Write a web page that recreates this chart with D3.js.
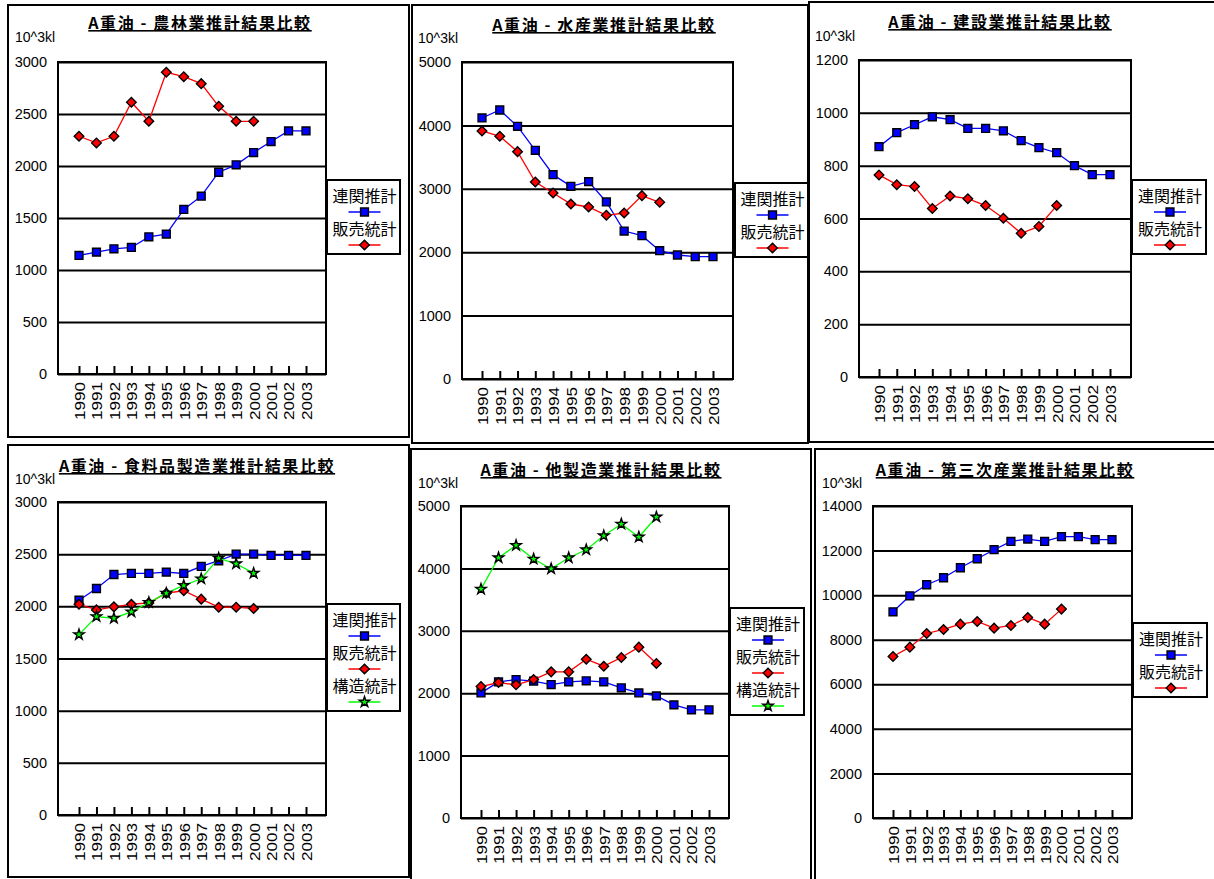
<!DOCTYPE html>
<html>
<head>
<meta charset="utf-8">
<script src="https://cdn.jsdelivr.net/npm/d3@7"></script>
<style>
  html, body { margin: 0; padding: 0; background: #fff; }
  svg { display: block; }
  .num { font-family: "Liberation Sans", Arial, sans-serif; font-size: 14px; fill: #000; }
  .cjk { font-family: "Noto Sans CJK JP", sans-serif; fill: #000; }
</style>
</head>
<body>
<svg id="chart" width="1214" height="879"></svg>
<script>
// Fiscal years on the category axis
const years = ["1990","1991","1992","1993","1994","1995","1996","1997","1998","1999","2000","2001","2002","2003"];

// Legend names
const seriesNames = ["連関推計", "販売統計", "構造統計"];

// Panel titles
const titles = [
  "A重油 - 農林業推計結果比較",
  "A重油 - 水産業推計結果比較",
  "A重油 - 建設業推計結果比較",
  "A重油 - 食料品製造業推計結果比較",
  "A重油 - 他製造業推計結果比較",
  "A重油 - 第三次産業推計結果比較"
];
const unitLabel = "10^3kl";

// Values, 10^3 kl
const agriRenkan  = [1140,1172,1204,1217,1319,1345,1582,1710,1940,2011,2129,2235,2337,2337];
const agriHanbai  = [2286,2222,2286,2613,2430,2901,2859,2792,2574,2430,2430];

const fishRenkan  = [4117,4243,3985,3607,3223,3039,3113,2792,2334,2261,2024,1956,1930,1930];
const fishHanbai  = [3912,3828,3586,3107,2934,2760,2713,2582,2618,2892,2787];

const constRenkan = [872,925,955,985,974,941,941,932,895,868,849,800,766,766];
const constHanbai = [765,728,721,638,685,675,649,601,544,570,649];

const foodRenkan  = [2059,2171,2305,2315,2315,2328,2315,2382,2437,2501,2501,2488,2488,2488];
const foodHanbai  = [2020,1966,1995,2020,2033,2126,2149,2069,1992,1992,1979];
const foodKozo    = [1729,1902,1886,1947,2037,2126,2200,2264,2462,2408,2318];

const otherRenkan = [2005,2182,2219,2193,2139,2182,2198,2182,2086,2005,1957,1813,1733,1733];
const otherHanbai = [2107,2171,2134,2219,2342,2342,2545,2433,2572,2738,2476];
const otherKozo   = [3668,4171,4369,4150,3995,4171,4299,4524,4711,4503,4824];

const tertRenkan  = [9253,9972,10466,10780,11229,11633,12038,12412,12517,12412,12622,12622,12487,12487];
const tertHanbai  = [7247,7666,8280,8460,8699,8819,8519,8639,8998,8699,9373];

// Value-axis ticks
const ticks3000  = [0,500,1000,1500,2000,2500,3000];
const ticks5000  = [0,1000,2000,3000,4000,5000];
const ticks1200  = [0,200,400,600,800,1000,1200];
const ticks14000 = [0,2000,4000,6000,8000,10000,12000,14000];

// Series styles: line colour and marker kind
const styles = [
  { color: "#0000ff", marker: "square" },
  { color: "#ff0000", marker: "diamond" },
  { color: "#00ff00", marker: "star" }
];

// Panel layout
const panels = [
  { frame: [8, 5, 401, 432], title: titles[0], titleX: 200, titleY: 29, unitX: 15, unitY: 42,
    plot: [58, 62, 326, 374], xFirst: 79, xLast: 306, ticks: ticks3000,
    series: [agriRenkan, agriHanbai], legend: [327, 180, 73] },
  { frame: [412, 5, 396, 438], title: titles[1], titleX: 604, titleY: 31, unitX: 418, unitY: 43,
    plot: [462, 62, 733, 379], xFirst: 482, xLast: 713, ticks: ticks5000,
    series: [fishRenkan, fishHanbai], legend: [735, 183, 73] },
  { frame: [809, 2, 420, 440], title: titles[2], titleX: 1000, titleY: 28, unitX: 815, unitY: 41,
    plot: [859, 60, 1131, 377], xFirst: 879, xLast: 1110, ticks: ticks1200,
    series: [constRenkan, constHanbai], legend: [1132, 180, 74] },
  { frame: [8, 445, 401, 432], title: titles[3], titleX: 197, titleY: 472, unitX: 15, unitY: 484,
    plot: [58, 502, 326, 815], xFirst: 79, xLast: 306, ticks: ticks3000,
    series: [foodRenkan, foodHanbai, foodKozo], legend: [327, 604, 73] },
  { frame: [411, 449, 400, 450], title: titles[4], titleX: 601, titleY: 476, unitX: 418, unitY: 488,
    plot: [461, 506, 729, 818], xFirst: 481, xLast: 709, ticks: ticks5000,
    series: [otherRenkan, otherHanbai, otherKozo], legend: [730, 608, 74] },
  { frame: [815, 449, 420, 450], title: titles[5], titleX: 1005, titleY: 476, unitX: 822, unitY: 488,
    plot: [873, 506, 1132, 818], xFirst: 893, xLast: 1112, ticks: ticks14000,
    series: [tertRenkan, tertHanbai], legend: [1133, 623, 74] }
];

const svg = d3.select("#chart");

function drawMarker(g, kind, color) {
  if (kind === "square") {
    g.append("path")
      .attr("d", d3.symbol(d3.symbolSquare, 62)())
      .attr("fill", color).attr("stroke", "#000").attr("stroke-width", 1.4);
  } else if (kind === "diamond") {
    g.append("path")
      .attr("d", d3.symbol(d3.symbolSquare, 46)())
      .attr("transform", "rotate(45)")
      .attr("fill", color).attr("stroke", "#000").attr("stroke-width", 1.4);
  } else {
    g.append("path")
      .attr("d", d3.symbol(d3.symbolStar, 34)())
      .attr("fill", color).attr("stroke", "#000").attr("stroke-width", 1.4);
  }
}

function drawPanel(p) {
  const g = svg.append("g");
  const [fx, fy, fw, fh] = p.frame;
  g.append("rect").attr("x", fx).attr("y", fy).attr("width", fw).attr("height", fh)
    .attr("fill", "#fff").attr("stroke", "#000").attr("stroke-width", 2);

  // Title
  g.append("text").attr("class", "cjk")
    .attr("x", p.titleX).attr("y", p.titleY)
    .attr("text-anchor", "middle")
    .style("font-size", "16px").style("font-weight", "bold")
    .style("letter-spacing", "1.6px")
    .style("text-decoration", "underline")
    .text(p.title);

  // Unit label
  g.append("text").attr("class", "num")
    .attr("x", p.unitX).attr("y", p.unitY).text(unitLabel);

  const [x0, y0, x1, y1] = p.plot;
  const yMax = p.ticks[p.ticks.length - 1];
  const y = d3.scaleLinear().domain([0, yMax]).range([y1, y0]);
  const x = d3.scalePoint().domain(years).range([p.xFirst, p.xLast]);

  // Horizontal gridlines with value labels
  const yAxis = g.append("g").attr("transform", `translate(${x0},0)`)
    .call(d3.axisLeft(y).tickValues(p.ticks).tickSize(-(x1 - x0)).tickPadding(11).tickFormat(d3.format("d")));
  yAxis.select(".domain").remove();
  yAxis.selectAll(".tick line").attr("stroke", "#000").attr("stroke-width", 2);
  yAxis.selectAll(".tick text").attr("class", "num").style("font-size", "14.5px")
    .attr("font-family", null).attr("fill", "#000");

  // Plot border
  g.append("rect").attr("x", x0).attr("y", y0).attr("width", x1 - x0).attr("height", y1 - y0)
    .attr("fill", "none").attr("stroke", "#000").attr("stroke-width", 2);

  // Category axis: inward ticks, vertical year labels
  const xAxis = g.append("g").attr("transform", `translate(0,${y1})`)
    .call(d3.axisBottom(x).tickSize(-8).tickSizeOuter(0));
  xAxis.select(".domain").remove();
  xAxis.selectAll(".tick line").attr("stroke", "#000").attr("stroke-width", 2);
  xAxis.selectAll(".tick text")
    .attr("class", "num").attr("font-family", null).attr("fill", "#000")
    .style("font-size", "15px")
    .attr("text-anchor", "end")
    .attr("transform", "rotate(-90)")
    .attr("x", -8).attr("y", 0).attr("dy", "0.36em")
    .attr("textLength", 38).attr("lengthAdjust", "spacingAndGlyphs");

  // Series lines and markers
  p.series.forEach((vals, i) => {
    const st = styles[i];
    const pts = vals.map((v, k) => ({ year: years[k], value: v }));
    const line = d3.line().x(d => x(d.year)).y(d => y(d.value));
    g.append("path").attr("d", line(pts))
      .attr("fill", "none").attr("stroke", st.color).attr("stroke-width", 1.3);
    pts.forEach(d => {
      const m = g.append("g").attr("transform", `translate(${x(d.year)},${y(d.value)})`);
      drawMarker(m, st.marker, st.color);
    });
  });

  // Legend
  const [lx, ly, lw] = p.legend;
  const n = p.series.length;
  const lh = 33 * n + 8;
  const lg = g.append("g");
  lg.append("rect").attr("x", lx).attr("y", ly).attr("width", lw).attr("height", lh)
    .attr("fill", "#fff").attr("stroke", "#000").attr("stroke-width", 2);
  const cx = lx + lw / 2 + 1;
  for (let i = 0; i < n; i++) {
    const st = styles[i];
    lg.append("text").attr("class", "cjk")
      .attr("x", cx).attr("y", ly + 16 + 33 * i).attr("dy", "0.36em")
      .attr("text-anchor", "middle")
      .style("font-size", "16px").style("letter-spacing", "0px")
      .text(seriesNames[i]);
    const sy = ly + 32 + 33 * i;
    lg.append("line").attr("x1", cx - 16).attr("x2", cx + 16).attr("y1", sy).attr("y2", sy)
      .attr("stroke", st.color).attr("stroke-width", 1.5);
    const m = lg.append("g").attr("transform", `translate(${cx},${sy})`);
    drawMarker(m, st.marker, st.color);
  }
}

panels.forEach(drawPanel);
</script>
</body>
</html>
